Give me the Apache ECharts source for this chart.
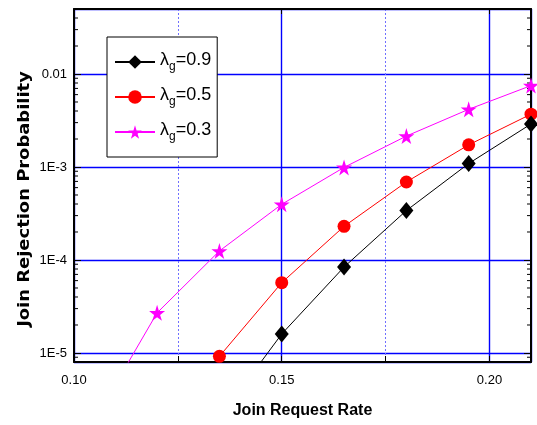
<!DOCTYPE html>
<html>
<head>
<meta charset="utf-8">
<script src="https://cdn.jsdelivr.net/npm/echarts@6/dist/echarts.min.js"></script>
<style>
  html, body { margin: 0; padding: 0; background: #fff; }
  #chart { width: 537px; height: 425px; }
</style>
</head>
<body>
<div id="chart"></div>
<script>
// join request rate (x) values
const rates = [0.105, 0.12, 0.135, 0.15, 0.165, 0.18, 0.195, 0.21]
// rejection probability per lambda_g
const lambda09 = [null, null, 2.0e-6, 1.6e-5, 8.4e-5, 3.4e-4, 1.09e-3, 2.9e-3]
const lambda05 = [null, null, 9.2e-6, 5.7e-5, 2.3e-4, 6.9e-4, 1.73e-3, 3.7e-3]
const lambda03 = [1.9e-6, 2.7e-5, 1.25e-4, 3.97e-4, 9.9e-4, 2.15e-3, 4.17e-3, 7.5e-3]
const seriesNames = ['λg=0.9', 'λg=0.5', 'λg=0.3']
const seriesColors = ['#000000', '#ff0000', '#ff00ff']

const xMin = 0.10
const xMax = 0.21
const yMin = 8e-6
const yMax = 0.05

// minor tick values on the log axis (2..9 of each decade)
const minorTicks = []
for (let e = -6; e <= -2; e++) {
  for (let m = 2; m <= 9; m++) {
    const v = m * Math.pow(10, e)
    if (v > yMin && v < yMax) minorTicks.push([xMin, v])
  }
}

const starPath = 'path://M50,0 L61,35 L98,35 L68,57 L79,91 L50,70 L21,91 L32,57 L2,35 L39,35 Z'

const chart = echarts.init(document.getElementById('chart'))

function pairs (ys) {
  return rates.map((x, i) => [x, ys[i]])
}

function xLabel (v) {
  const k = Math.round(v / 0.05)
  if (Math.abs(v - k * 0.05) > 1e-6) return ''
  return v.toFixed(2)
}

function yLabel (v) {
  const e = Math.round(Math.log10(v))
  if (Math.abs(Math.log10(v) - e) > 1e-6) return ''
  if (e === -2) return '0.01'
  return '1E' + e
}

const axisFont = { fontFamily: 'Liberation Sans, Arial', fontSize: 13, color: '#000' }
const gridBlue = '#0000ff'

const option = {
  animation: false,
  grid: { left: 74, right: 6, top: 9, bottom: 63 },
  graphic: [
    {
      type: 'text',
      x: 25,
      y: 199,
      rotation: Math.PI / 2,
      scaleX: 1.12,
      style: {
        text: 'Join Rejection Probability',
        font: 'bold 16px "DejaVu Sans"',
        fill: '#000',
        align: 'center',
        verticalAlign: 'middle'
      }
    }
  ],
  legend: {
    data: seriesNames,
    orient: 'vertical',
    left: 107,
    top: 37,
    padding: [14, 6, 14, 7],
    itemGap: 13,
    itemWidth: 40,
    itemHeight: 17,
    backgroundColor: '#fff',
    borderColor: '#000',
    borderWidth: 1,
    formatter: function (name) {
      return '{a|λ}{s|g}{a|' + name.slice(2) + '}'
    },
    textStyle: {
      rich: {
        a: { fontFamily: 'Liberation Sans, Arial', fontSize: 18, color: '#000', verticalAlign: 'bottom', padding: [0, 0, 4, 0] },
        s: { fontFamily: 'Liberation Sans, Arial', fontSize: 12, color: '#000', verticalAlign: 'bottom' }
      }
    }
  },
  xAxis: [
    {
      type: 'value',
      position: 'bottom',
      min: xMin,
      max: xMax,
      interval: 0.025,
      name: 'Join Request Rate',
      nameLocation: 'middle',
      nameGap: 41,
      nameTextStyle: { fontFamily: 'Liberation Sans, Arial', fontWeight: 'bold', fontSize: 16, color: '#000' },
      axisLine: { lineStyle: { color: '#000', width: 2 } },
      axisTick: { inside: true, length: 6, lineStyle: { color: '#000' } },
      axisLabel: Object.assign({ margin: 12, formatter: xLabel }, axisFont),
      splitLine: { show: true, lineStyle: { color: '#7070ff', width: 1, type: [2, 2] } }
    },
    {
      type: 'value',
      position: 'top',
      min: xMin,
      max: xMax,
      interval: 0.05,
      axisLine: { lineStyle: { color: '#000', width: 2 } },
      axisTick: { inside: true, length: 5, lineStyle: { color: '#000' } },
      axisLabel: { show: false },
      splitLine: { show: true, lineStyle: { color: gridBlue, width: 1.4 } }
    }
  ],
  yAxis: [
    {
      type: 'log',
      logBase: 10,
      position: 'left',
      min: yMin,
      max: yMax,
      axisLine: { lineStyle: { color: '#000', width: 2 } },
      axisTick: { inside: true, length: 7, lineStyle: { color: '#000' } },
      axisLabel: Object.assign({ margin: 7, formatter: yLabel }, axisFont),
      splitLine: { show: true, lineStyle: { color: gridBlue, width: 1.4 } }
    },
    {
      type: 'log',
      logBase: 10,
      position: 'right',
      min: yMin,
      max: yMax,
      axisLine: { lineStyle: { color: '#000', width: 2 } },
      axisTick: { inside: true, length: 7, lineStyle: { color: '#000' } },
      axisLabel: { show: false },
      splitLine: { show: false }
    }
  ],
  series: [
    {
      name: seriesNames[0],
      type: 'line',
      data: pairs(lambda09),
      symbol: 'diamond',
      symbolSize: [14, 17],
      color: seriesColors[0],
      lineStyle: { width: 1 },
      clip: true,
      z: 4
    },
    {
      name: seriesNames[1],
      type: 'line',
      data: pairs(lambda05),
      symbol: 'circle',
      symbolSize: 13,
      color: seriesColors[1],
      lineStyle: { width: 1 },
      clip: true,
      z: 3
    },
    {
      name: seriesNames[2],
      type: 'line',
      data: pairs(lambda03),
      symbol: starPath,
      symbolSize: 16,
      color: seriesColors[2],
      lineStyle: { width: 1 },
      clip: true,
      z: 2
    },
    {
      // small inside ticks on left and right log axes
      type: 'custom',
      silent: true,
      clip: false,
      data: minorTicks,
      renderItem: function (params, api) {
        const v = api.value(1)
        const left = api.coord([xMin, v])
        const right = api.coord([xMax, v])
        return {
          type: 'group',
          children: [
            { type: 'line', shape: { x1: left[0], y1: left[1], x2: left[0] + 4, y2: left[1] }, style: { stroke: '#000', lineWidth: 1 } },
            { type: 'line', shape: { x1: right[0], y1: right[1], x2: right[0] - 4, y2: right[1] }, style: { stroke: '#000', lineWidth: 1 } }
          ]
        }
      }
    }
  ]
}

chart.setOption(option)
</script>
</body>
</html>
